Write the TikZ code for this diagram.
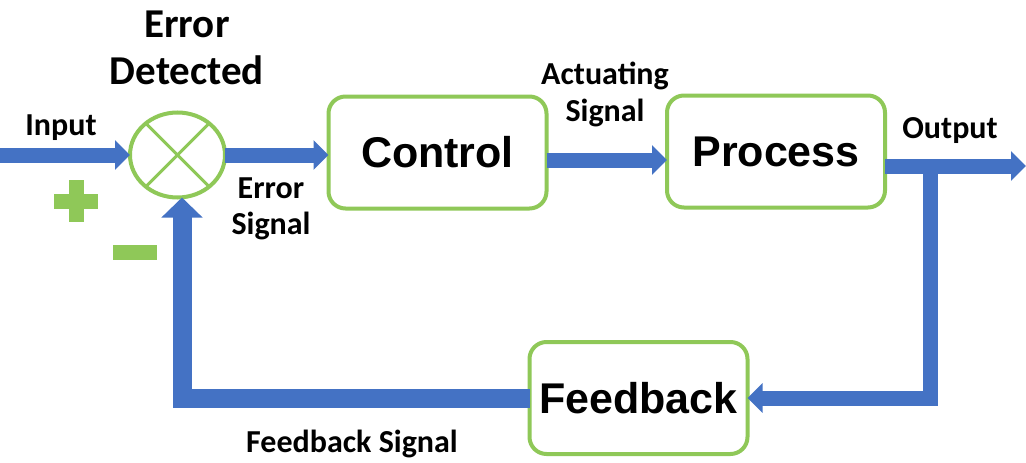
\documentclass[tikz,border=0pt]{standalone}
\usepackage{fontspec}
\setmainfont{Carlito}
\newfontfamily\boxfont{Liberation Sans}
\usetikzlibrary{arrows.meta,shapes.geometric}
\definecolor{flowblue}{HTML}{4472C4}
\definecolor{boxgreen}{HTML}{8FC858}
\begin{document}
\begin{tikzpicture}[x=1pt,y=-1pt,
  blockbox/.style={draw=boxgreen, line width=4pt, rounded corners=17pt,
    minimum width=218pt, minimum height=112pt, fill=white, inner sep=0pt, outer sep=0pt,
    font=\boxfont\bfseries\fontsize{43}{48}\selectfont},
  lbl/.style={font=\bfseries\fontsize{32}{36}\selectfont, inner sep=0pt, align=center},
  flow/.style={draw=flowblue, line width=15pt, -{Triangle[length=15pt,width=29pt]}},
  loopflow/.style={draw=flowblue, line width=19pt, -{Triangle[length=20pt,width=40pt]}},
  signmark/.style={fill=boxgreen}
]
\useasboundingbox[fill=white] (0,0) rectangle (1026,463);

% summing junction
\node[ellipse, draw=boxgreen, line width=4pt, minimum width=95pt, minimum height=85pt,
      inner sep=0pt, outer sep=0pt, fill=white] (sj) at (177.5,155) {};
\draw[boxgreen, line width=3pt] (sj.45) -- (sj.225);
\draw[boxgreen, line width=3pt] (sj.135) -- (sj.315);

% blocks
\node[blockbox] (ctrl) at (437.5,152.5) {Control};
\node[blockbox] (proc) at (776,151.5) {Process};
\node[blockbox] (fb) at (638.5,398) {Feedback};

% coordinates
\coordinate (in) at (0,155);
\coordinate (act) at (0,160);
\coordinate (outy) at (0,166);
\coordinate (outend) at (1026,166);
\coordinate (tap) at (930,166);
\coordinate (loopx) at (182,0);

% connectors
\draw[flow] (in) -- (sj.west |- in);
\draw[flow] (sj.east |- in) -- (ctrl.west |- in);
\draw[flow] (ctrl.east |- act) -- (proc.west |- act);
\draw[flow] (proc.east |- outy) -- (outend);
\draw[flow] (tap) |- (fb.east);
\draw[loopflow] (fb.west) -| (loopx |- sj.south);

% plus and minus
\fill[signmark] (54,193.5) rectangle (98,208.5);
\fill[signmark] (68.5,180) rectangle (83.5,222);
\fill[signmark] (113,245) rectangle (157,260);

% labels
\node[lbl, font=\bfseries\fontsize{41}{47}\selectfont] (errdet) at (187,48) {Error\\Detected};
\node[lbl, anchor=base] (input) at (61,135) {Input};
\node[lbl, font=\bfseries\fontsize{32}{36}\selectfont] (errsig) at (271,209) {Error\\Signal};
\node[lbl, font=\bfseries\fontsize{32}{37}\selectfont] (actsig) at (605,94) {Actuating\\Signal};
\node[lbl, anchor=base] (output) at (950,138) {Output};
\node[lbl, anchor=base] (fbsig) at (352,452) {Feedback Signal};
\end{tikzpicture}
\end{document}
